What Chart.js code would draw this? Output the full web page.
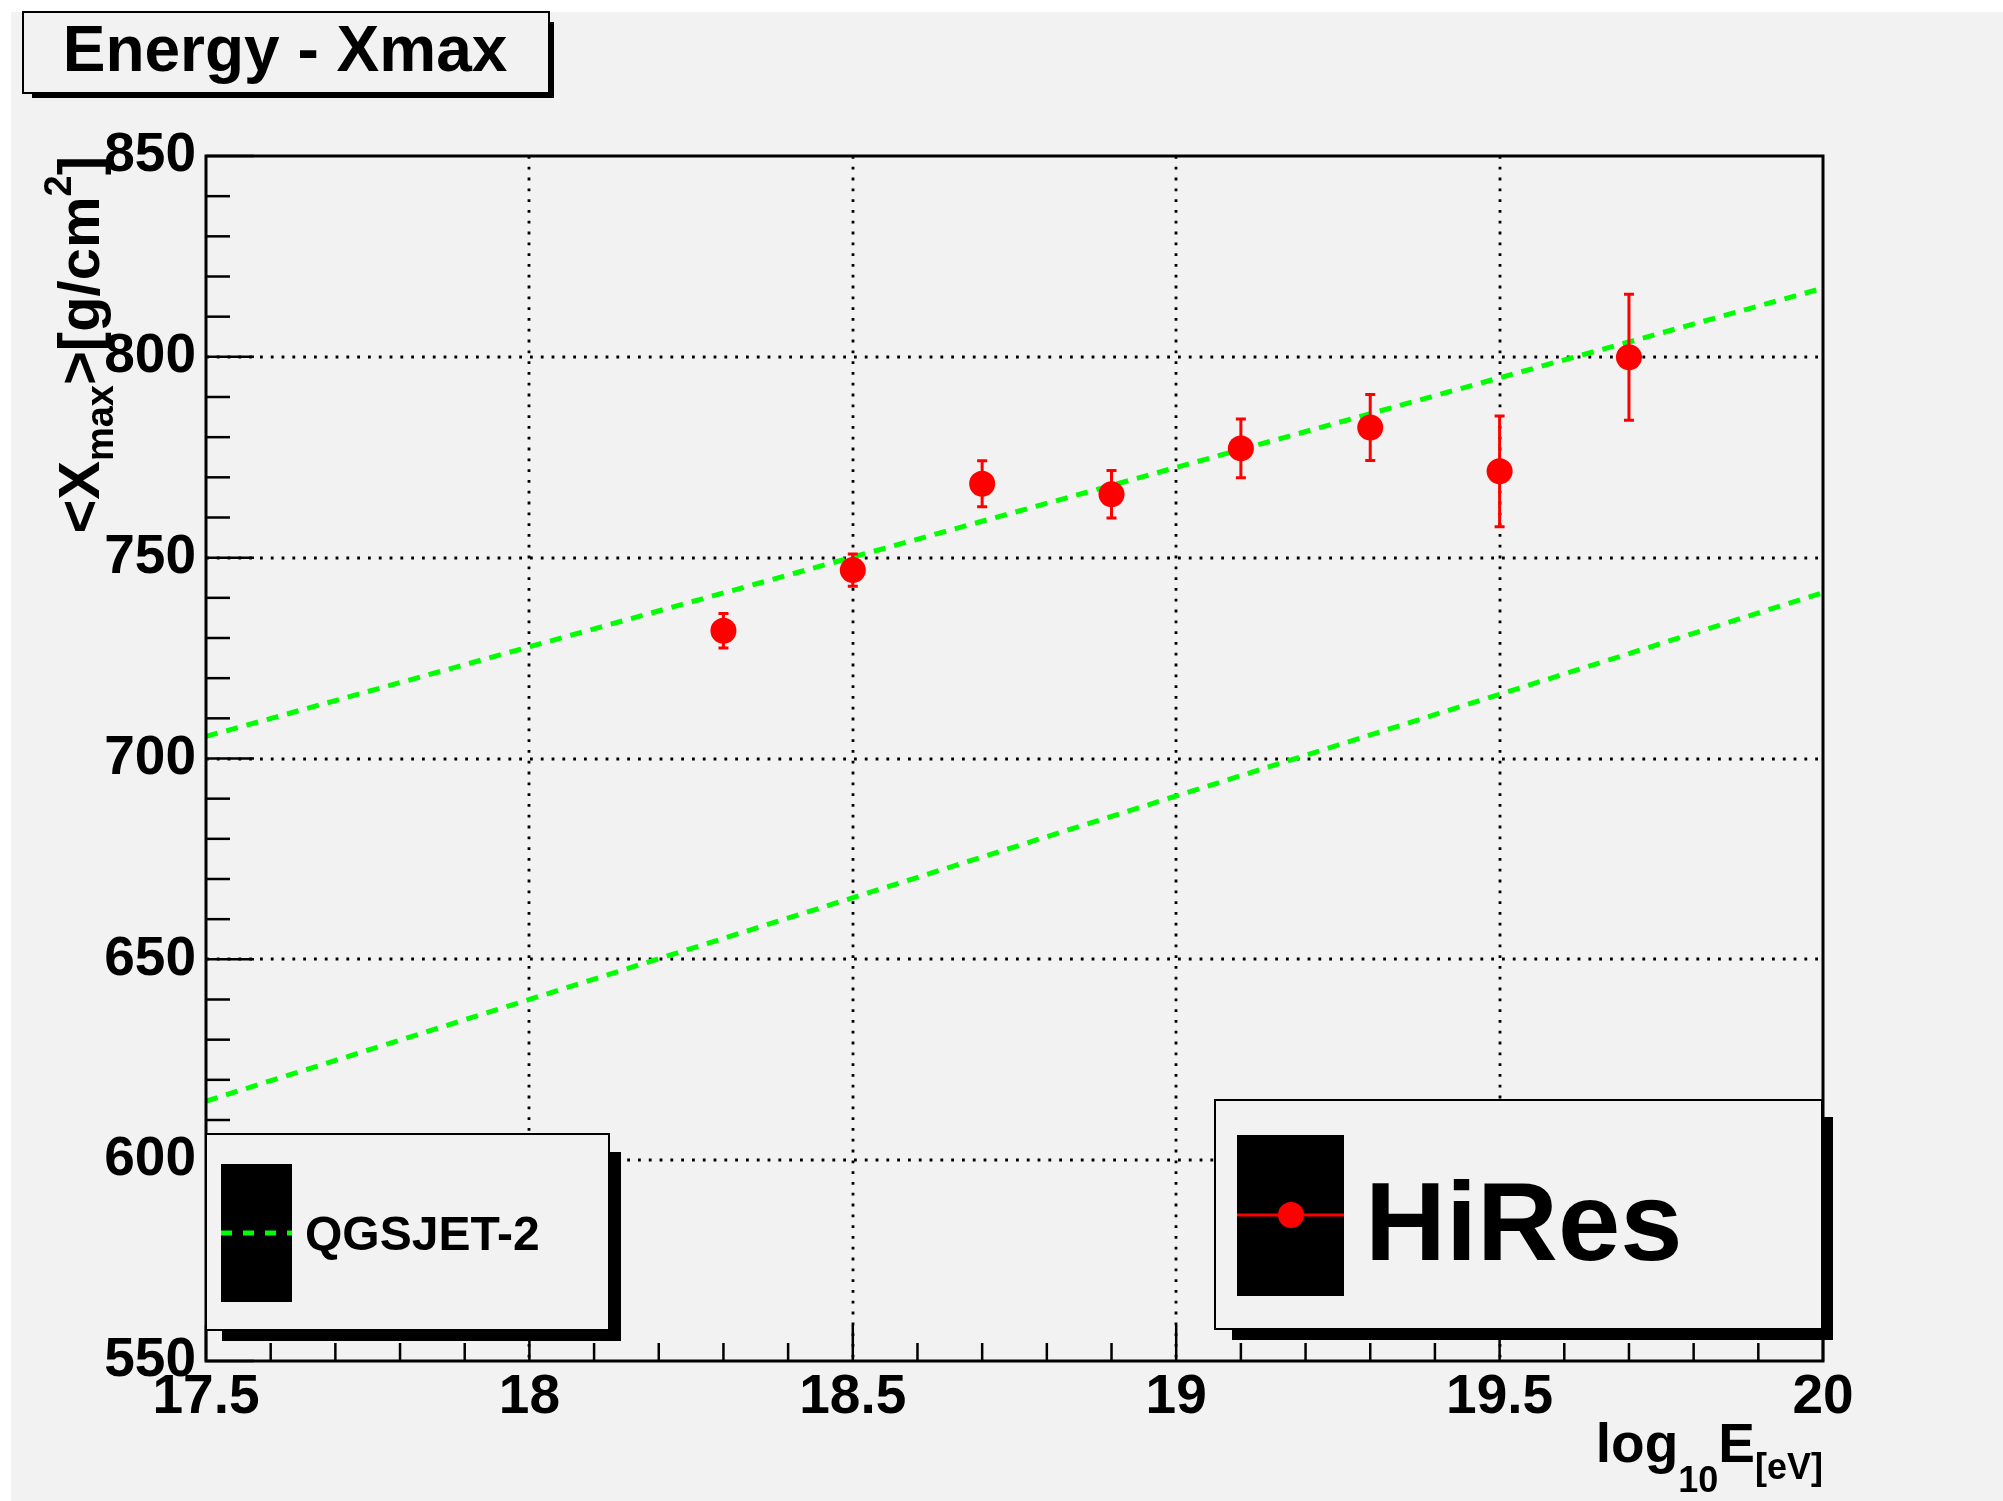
<!DOCTYPE html>
<html>
<head>
<meta charset="utf-8">
<title>Energy - Xmax</title>
<script src="https://cdn.jsdelivr.net/npm/chart.js@4.4.1/dist/chart.umd.min.js"></script>
<style>
  html, body { margin: 0; padding: 0; background: #ffffff; }
  #wrap { width: 2003px; height: 1501px; position: relative; }
  canvas { display: block; }
</style>
</head>
<body>
<div id="wrap"><canvas id="xmaxChart" width="2003" height="1501"></canvas></div>
<script>
// HiRes mean depth of shower maximum per energy bin
const energyBins = [18.3, 18.5, 18.7, 18.9, 19.1, 19.3, 19.5, 19.7];
const hiresXmax  = [731.8, 746.9, 768.4, 765.8, 777.2, 782.4, 771.5, 799.9];
const hiresErr   = [4.3, 4.0, 5.7, 5.9, 7.3, 8.2, 13.8, 15.7];

// QGSJET-II model predictions (proton / iron), straight in log10 E
const modelEnergy  = [17.5, 20.0];
const qgsjetProton = [705.5, 817.1];
const qgsjetIron   = [614.7, 741.3];

// Axis ticks
const xTickValues = [17.5, 18, 18.5, 19, 19.5, 20];
const yTickValues = [550, 600, 650, 700, 750, 800, 850];

const FONT = '"Liberation Sans", Arial, Helvetica, sans-serif';
const BG = '#f2f2f2';

function toPoints(xs, ys) { return xs.map((x, i) => ({ x: x, y: ys[i] })); }

// Background, grid, error bars, frame, ticks, legends and titles
const rootStyle = {
  id: 'rootStyle',
  beforeDraw(chart) {
    const c = chart.ctx;
    c.save();
    c.fillStyle = '#ffffff';
    c.fillRect(0, 0, chart.width, chart.height);
    c.fillStyle = BG;
    c.fillRect(11, 12, chart.width - 11, chart.height - 12);
    c.restore();
  },
  beforeDatasetsDraw(chart) {
    const c = chart.ctx, a = chart.chartArea;
    const xs = chart.scales.x, ys = chart.scales.y;
    c.save();
    c.strokeStyle = '#000000';
    c.lineWidth = 2.8;
    c.setLineDash([2.8, 8]);
    xTickValues.forEach(v => {
      if (v <= xs.min || v >= xs.max) return;
      const px = Math.round(xs.getPixelForValue(v));
      c.beginPath(); c.moveTo(px, a.top); c.lineTo(px, a.bottom); c.stroke();
    });
    yTickValues.forEach(v => {
      if (v <= ys.min || v >= ys.max) return;
      const py = Math.round(ys.getPixelForValue(v));
      c.beginPath(); c.moveTo(a.left, py); c.lineTo(a.right, py); c.stroke();
    });
    c.restore();
  },
  beforeDatasetDraw(chart, args) {
    if (args.index !== 0) return;
    const c = chart.ctx;
    const xs = chart.scales.x, ys = chart.scales.y;
    c.save();
    c.strokeStyle = '#ff0000';
    c.lineWidth = 3;
    energyBins.forEach((e, i) => {
      const px = xs.getPixelForValue(e);
      const top = ys.getPixelForValue(hiresXmax[i] + hiresErr[i]);
      const bot = ys.getPixelForValue(hiresXmax[i] - hiresErr[i]);
      c.beginPath();
      c.moveTo(px, top); c.lineTo(px, bot);
      c.moveTo(px - 5, top); c.lineTo(px + 5, top);
      c.moveTo(px - 5, bot); c.lineTo(px + 5, bot);
      c.stroke();
    });
    c.restore();
  },
  afterDatasetsDraw(chart) {
    const c = chart.ctx, a = chart.chartArea;
    const xs = chart.scales.x, ys = chart.scales.y;
    c.save();
    c.strokeStyle = '#000000';
    c.lineWidth = 2.5;
    c.setLineDash([]);
    // y ticks: major + 4 minor per interval
    for (let i = 0; i < yTickValues.length; i++) {
      const v = yTickValues[i];
      const py = ys.getPixelForValue(v);
      c.beginPath(); c.moveTo(a.left, py); c.lineTo(a.left + 48, py); c.stroke();
      if (i < yTickValues.length - 1) {
        const step = (yTickValues[i + 1] - v) / 5;
        for (let k = 1; k < 5; k++) {
          const pm = ys.getPixelForValue(v + k * step);
          c.beginPath(); c.moveTo(a.left, pm); c.lineTo(a.left + 24, pm); c.stroke();
        }
      }
    }
    // x ticks
    for (let i = 0; i < xTickValues.length; i++) {
      const v = xTickValues[i];
      const px = xs.getPixelForValue(v);
      c.beginPath(); c.moveTo(px, a.bottom); c.lineTo(px, a.bottom - 36); c.stroke();
      if (i < xTickValues.length - 1) {
        const step = (xTickValues[i + 1] - v) / 5;
        for (let k = 1; k < 5; k++) {
          const pm = xs.getPixelForValue(v + k * step);
          c.beginPath(); c.moveTo(pm, a.bottom); c.lineTo(pm, a.bottom - 18); c.stroke();
        }
      }
    }
    // frame
    c.lineWidth = 3;
    c.strokeRect(a.left, a.top, a.right - a.left, a.bottom - a.top);
    c.restore();
  },
  afterDraw(chart) {
    const c = chart.ctx;
    const ds = chart.data.datasets;
    c.save();

    const box = (x1, y1, x2, y2, sx1, sy1, sx2, sy2) => {
      c.fillStyle = '#000000';
      c.fillRect(sx1, sy1, sx2 - sx1, sy2 - sy1);
      c.fillStyle = BG;
      c.fillRect(x1, y1, x2 - x1, y2 - y1);
      c.strokeStyle = '#000000';
      c.lineWidth = 2;
      c.setLineDash([]);
      c.strokeRect(x1, y1, x2 - x1, y2 - y1);
    };

    // title
    box(23, 12, 549, 93, 32, 22, 554, 98);
    c.fillStyle = '#000000';
    c.font = 'bold 64px ' + FONT;
    c.textAlign = 'center';
    c.textBaseline = 'alphabetic';
    c.fillText(chart.options.plugins.title.text, 285, 71);

    // model legend
    box(206, 1134, 609, 1330, 222, 1152, 621, 1341);
    c.fillStyle = '#000000';
    c.fillRect(221, 1164, 71, 138);
    c.save();
    c.beginPath(); c.rect(221, 1160, 71, 146); c.clip();
    c.strokeStyle = ds[1].borderColor;
    c.lineWidth = 5;
    c.setLineDash([11, 11]);
    c.beginPath(); c.moveTo(221, 1233); c.lineTo(292, 1233); c.stroke();
    c.restore();
    c.fillStyle = '#000000';
    c.font = 'bold 48px ' + FONT;
    c.textAlign = 'left';
    c.fillText(ds[1].label, 305, 1250);

    // data legend
    box(1215, 1100, 1822, 1329, 1232, 1117, 1833, 1340);
    c.fillStyle = '#000000';
    c.fillRect(1237, 1135, 107, 161);
    c.strokeStyle = ds[0].backgroundColor;
    c.lineWidth = 3;
    c.setLineDash([]);
    c.beginPath(); c.moveTo(1237, 1215); c.lineTo(1344, 1215); c.stroke();
    c.fillStyle = ds[0].backgroundColor;
    c.beginPath(); c.arc(1291, 1215, 13, 0, Math.PI * 2); c.fill();
    c.fillStyle = '#000000';
    c.font = 'bold 112px ' + FONT;
    c.fillText(ds[0].label, 1365, 1260);

    // x axis title: log10 E[eV], right-aligned at the frame edge
    const xParts = [
      { t: 'log', f: 55, b: 1462 },
      { t: '10', f: 36, b: 1492 },
      { t: 'E', f: 55, b: 1462 },
      { t: '[eV]', f: 36, b: 1479 }
    ];
    let total = 0;
    xParts.forEach(p => { c.font = 'bold ' + p.f + 'px ' + FONT; p.w = c.measureText(p.t).width; total += p.w; });
    let x = chart.chartArea.right - total;
    c.textAlign = 'left';
    xParts.forEach(p => { c.font = 'bold ' + p.f + 'px ' + FONT; c.fillText(p.t, x, p.b); x += p.w; });

    // y axis title: <X_max>[g/cm^2], rotated, top end at the frame top
    const yParts = [
      { t: '<X', f: 58, o: 0 },
      { t: 'max', f: 38, o: 14 },
      { t: '>[g/cm', f: 58, o: 0 },
      { t: '2', f: 38, o: -28 },
      { t: ']', f: 58, o: 0 }
    ];
    total = 0;
    yParts.forEach(p => { c.font = 'bold ' + p.f + 'px ' + FONT; p.w = c.measureText(p.t).width; total += p.w; });
    c.translate(99, chart.chartArea.top + total);
    c.rotate(-Math.PI / 2);
    let s = 0;
    yParts.forEach(p => { c.font = 'bold ' + p.f + 'px ' + FONT; c.fillText(p.t, s, p.o); s += p.w; });

    c.restore();
  }
};

const ctx = document.getElementById('xmaxChart').getContext('2d');
new Chart(ctx, {
  type: 'scatter',
  data: {
    datasets: [
      {
        label: 'HiRes',
        data: toPoints(energyBins, hiresXmax),
        backgroundColor: '#ff0000',
        borderColor: '#ff0000',
        borderWidth: 0,
        pointRadius: 13,
        pointHoverRadius: 13,
        showLine: false,
        order: 0
      },
      {
        label: 'QGSJET-2',
        data: toPoints(modelEnergy, qgsjetProton),
        borderColor: '#00ff00',
        backgroundColor: '#00ff00',
        borderWidth: 5,
        borderDash: [12, 9],
        pointRadius: 0,
        showLine: true,
        fill: false,
        order: 1
      },
      {
        label: 'QGSJET-2 Fe',
        data: toPoints(modelEnergy, qgsjetIron),
        borderColor: '#00ff00',
        backgroundColor: '#00ff00',
        borderWidth: 5,
        borderDash: [12, 9],
        pointRadius: 0,
        showLine: true,
        fill: false,
        order: 1
      }
    ]
  },
  options: {
    responsive: false,
    animation: false,
    devicePixelRatio: 1,
    events: [],
    layout: { padding: { left: 0, top: 156, right: 180, bottom: 0 } },
    plugins: {
      legend: { display: false },
      tooltip: { enabled: false },
      title: { display: false, text: 'Energy - Xmax' }
    },
    scales: {
      x: {
        type: 'linear',
        min: xTickValues[0],
        max: xTickValues[xTickValues.length - 1],
        afterBuildTicks: s => { s.ticks = xTickValues.map(v => ({ value: v })); },
        afterFit: s => { s.height = 140; },
        grid: { display: false, drawTicks: false },
        border: { display: false },
        ticks: {
          autoSkip: false, maxRotation: 0, minRotation: 0, padding: 4,
          color: '#000000',
          font: { family: FONT, size: 55, weight: 'bold', lineHeight: 1.2 },
          callback: v => String(v)
        }
      },
      y: {
        type: 'linear',
        min: yTickValues[0],
        max: yTickValues[yTickValues.length - 1],
        afterBuildTicks: s => { s.ticks = yTickValues.map(v => ({ value: v })); },
        afterFit: s => { s.width = 206; },
        grid: { display: false, drawTicks: false },
        border: { display: false },
        ticks: {
          autoSkip: false, padding: 10,
          color: '#000000',
          font: { family: FONT, size: 55, weight: 'bold', lineHeight: 1.2 },
          callback: v => String(v)
        }
      }
    }
  },
  plugins: [rootStyle]
});
</script>
</body>
</html>
